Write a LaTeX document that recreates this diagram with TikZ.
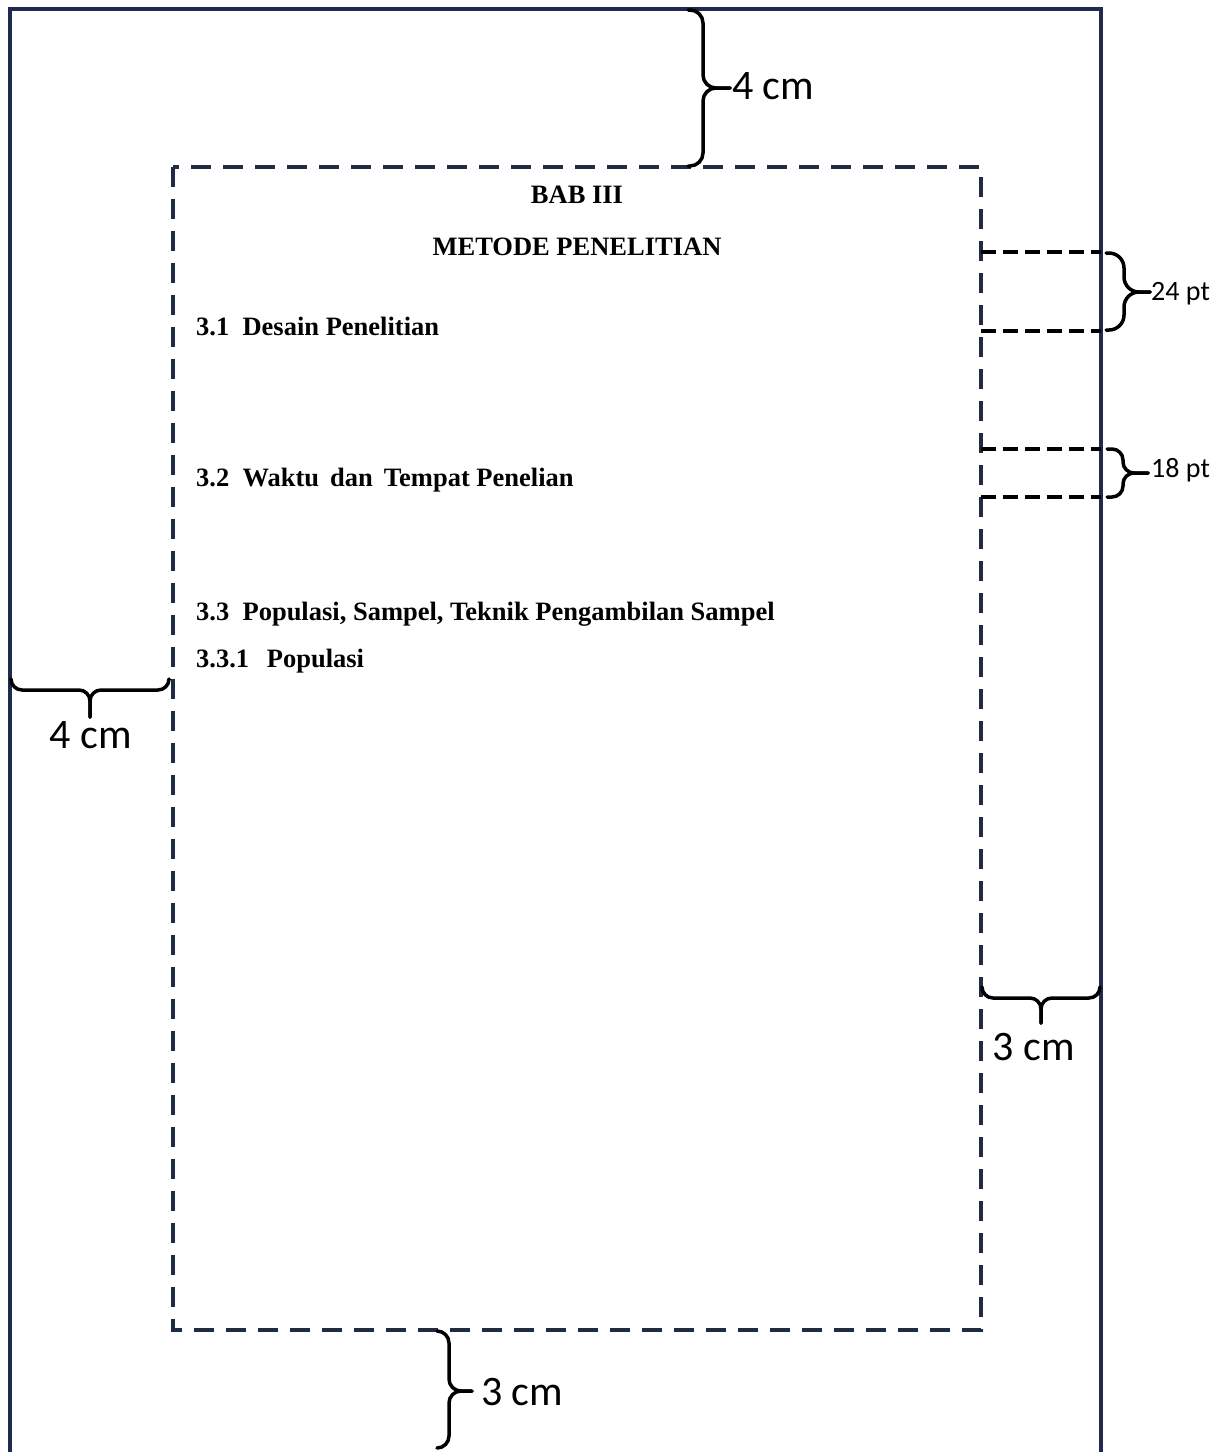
\documentclass[tikz,border=0pt]{standalone}
\usepackage{fontspec}
\setmainfont{Liberation Serif}
\newfontfamily\labelfont{Carlito}
\definecolor{frame}{HTML}{1F2A4F}
\definecolor{inner}{HTML}{1F2B40}
\tikzset{
  outerframe/.style={draw=frame,line width=4pt},
  innerframe/.style={draw=inner,line width=4pt,dash pattern=on 20pt off 12pt},
  guide/.style={draw=black,line width=4pt,dash pattern=on 15pt off 7pt},
  bracestyle/.style={draw=black,line width=3.5pt,line cap=round,line join=round,rounded corners=#1},
  cmlabel/.style={font=\labelfont\fontsize{42}{46}\selectfont,inner sep=0pt},
  ptlabel/.style={font=\labelfont\fontsize{28}{30}\selectfont,inner sep=0pt,anchor=west},
  heading/.style={font=\bfseries\fontsize{26.5}{30}\selectfont,inner sep=0pt,anchor=base},
  sectitle/.style={font=\bfseries\fontsize{26.5}{30}\selectfont,inner sep=0pt,anchor=base west},
}
\begin{document}
\begin{tikzpicture}[x=1pt,y=-1pt]
\useasboundingbox (0,0) rectangle (1230,1452);
% outer page frame (open at the bottom)
\draw[outerframe] (10,1452) -- (10,9) -- (1101,9) -- (1101,1452);
% inner text area
\draw[innerframe] (173,167) rectangle (981,1330);
% spacing guides
\coordinate (g1a) at (981,252); \coordinate (g1b) at (1101,252);
\coordinate (g2a) at (981,331); \coordinate (g2b) at (1101,331);
\coordinate (g3a) at (981,449); \coordinate (g3b) at (1101,449);
\coordinate (g4a) at (981,497); \coordinate (g4b) at (1101,497);
\draw[guide] (g1a) -- (g1b);
\draw[guide] (g2a) -- (g2b);
\draw[guide] (g3a) -- (g3b);
\draw[guide] (g4a) -- (g4b);
% top brace (4 cm)
\coordinate (tA) at (688,10); \coordinate (tB) at (688,166); \coordinate (tT) at (730,88);
\draw[bracestyle=13] (tA) -- (703,10) -- (703,88) -- (tT);
\draw[bracestyle=13] (tT) -- (703,88) -- (703,166) -- (tB);
% 24 pt brace
\coordinate (pA) at (1106,253); \coordinate (pB) at (1106,330); \coordinate (pT) at (1150,292);
\draw[bracestyle=15] (pA) -- (1124,253) -- (1124,292) -- (pT);
\draw[bracestyle=15] (pT) -- (1124,292) -- (1124,330) -- (pB);
% 18 pt brace
\coordinate (qA) at (1107,449); \coordinate (qB) at (1107,497); \coordinate (qT) at (1148,473);
\draw[bracestyle=11] (qA) -- (1123,449) -- (1123,473) -- (qT);
\draw[bracestyle=11] (qT) -- (1123,473) -- (1123,497) -- (qB);
% left brace (4 cm)
\coordinate (lA) at (11,680); \coordinate (lB) at (169,680); \coordinate (lT) at (90,717);
\draw[bracestyle=11] (lA) -- (11,690) -- (90,690) -- (lT);
\draw[bracestyle=11] (lT) -- (90,690) -- (169,690) -- (lB);
% right brace (3 cm)
\coordinate (rA) at (982,987); \coordinate (rB) at (1100,987); \coordinate (rT) at (1041,1023);
\draw[bracestyle=11] (rA) -- (982,998) -- (1041,998) -- (rT);
\draw[bracestyle=11] (rT) -- (1041,998) -- (1100,998) -- (rB);
% bottom brace (3 cm)
\coordinate (bA) at (437,1331); \coordinate (bB) at (437,1448); \coordinate (bT) at (472,1391);
\draw[bracestyle=12] (bA) -- (449,1331) -- (449,1391) -- (bT);
\draw[bracestyle=12] (bT) -- (449,1391) -- (449,1448) -- (bB);
% labels
\node[cmlabel,anchor=west] (ltop) at (732,86) {4 cm};
\node[ptlabel] (l24) at (1151,294) {24 pt};
\node[ptlabel] (l18) at (1151,470) {18 pt};
\node[cmlabel] (lleft) at (91,735) {4 cm};
\node[cmlabel] (lright) at (1034,1047) {3 cm};
\node[cmlabel,anchor=west] (lbot) at (481,1392) {3 cm};
% page text
\node[heading] (bab) at (577,203) {BAB III};
\node[heading] (judul) at (577,255) {METODE PENELITIAN};
\node[sectitle] (s31) at (196,335) {3.1\ \ Desain Penelitian};
\node[sectitle] (s32) at (196,486) {3.2\ \ Waktu\ \,dan\ \,Tempat Penelian};
\node[sectitle] (s33) at (196,620) {3.3\ \ Populasi, Sampel, Teknik Pengambilan Sampel};
\node[sectitle] (s331) at (196,667) {3.3.1\ \ \,Populasi};
\end{tikzpicture}
\end{document}
